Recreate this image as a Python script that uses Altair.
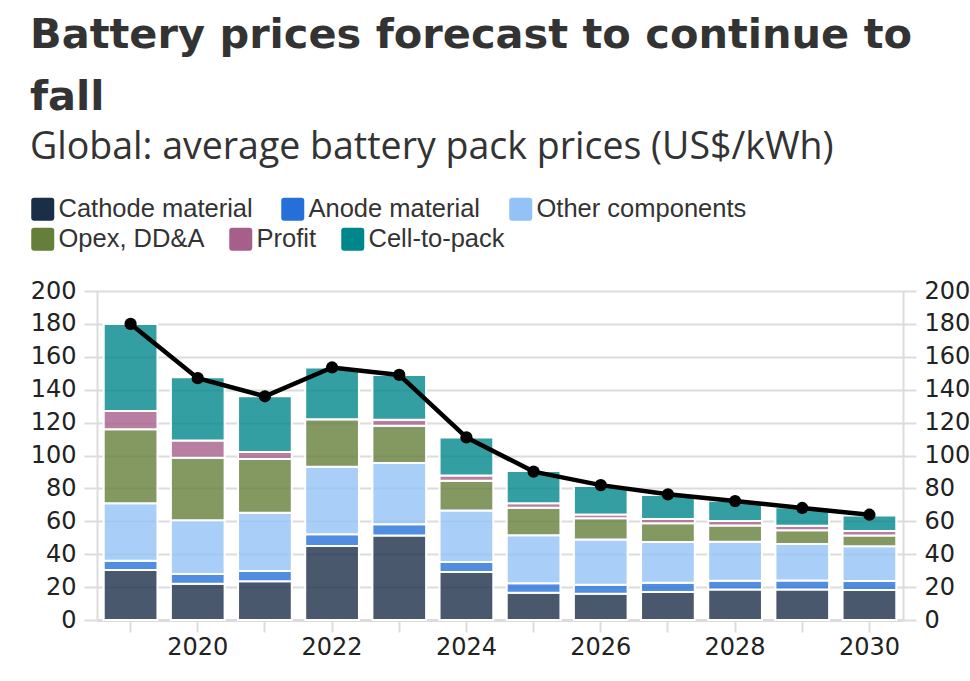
import altair as alt
import pandas as pd

years = ["2019", "2020", "2021", "2022", "2023", "2024", "2025", "2026", "2027", "2028", "2029", "2030"]
cathode = [30.4, 22.0, 23.5, 45.0, 51.3, 29.2, 16.6, 16.0, 17.0, 18.6, 18.6, 18.2]
anode = [5.6, 6.0, 6.3, 7.1, 6.9, 6.1, 5.7, 5.5, 5.7, 5.3, 5.4, 5.5]
other = [34.9, 32.6, 35.4, 41.1, 37.2, 31.2, 29.2, 27.5, 24.7, 23.7, 22.2, 21.1]
opex = [45.0, 38.0, 32.7, 28.8, 22.7, 18.2, 16.8, 12.8, 11.4, 9.9, 8.3, 6.5]
profit = [11.1, 10.5, 4.2, 0.0, 3.7, 3.1, 2.6, 2.4, 2.6, 2.7, 2.8, 2.8]
cell_to_pack = [53.0, 38.4, 33.9, 31.5, 27.1, 23.2, 19.7, 17.3, 14.6, 12.3, 11.2, 9.5]
total_price = [180.0, 147.0, 136.0, 153.5, 149.0, 111.0, 90.2, 82.0, 76.4, 72.3, 68.1, 64.0]

categories = ["Cathode material", "Anode material", "Other components",
              "Opex, DD&A", "Profit", "Cell-to-pack"]
colors = ["#1b2e47", "#2570d8", "#93c3f6", "#647f3a", "#a65f8b", "#00878c"]
y_ticks = [0, 20, 40, 60, 80, 100, 120, 140, 160, 180, 200]

series = [cathode, anode, other, opex, profit, cell_to_pack]
rows = []
for yi, yr in enumerate(years):
    base = 0.0
    for ci, cat in enumerate(categories):
        v = series[ci][yi]
        rows.append({"year": yr, "component": cat, "value": v,
                     "start": base, "end": base + v, "idx": ci})
        base += v
bars_df = pd.DataFrame(rows)
line_df = pd.DataFrame({"year": years, "total": total_price})

GRID = "#dcdcdc"
LABEL_FONT = "DejaVu Sans"
LABEL_COLOR = "#222222"
LABEL_SIZE = 24

x_enc = alt.X(
    "year:O",
    scale=alt.Scale(paddingInner=0.2, paddingOuter=0.1),
    axis=alt.Axis(
        title=None, labelAngle=0, labelFont=LABEL_FONT, labelFontSize=LABEL_SIZE,
        labelColor=LABEL_COLOR, labelPadding=3, tickSize=12, tickColor=GRID,
        tickWidth=2, domainColor=GRID, domainWidth=3, grid=False,
        labelExpr="toNumber(datum.value) % 2 == 0 ? datum.label : ''",
    ),
)
y_scale = alt.Scale(domain=[0, 200], nice=False)

left_axis = alt.Axis(
    title=None, orient="left", values=y_ticks, labelFont=LABEL_FONT, labelFontSize=LABEL_SIZE,
    labelColor=LABEL_COLOR, labelPadding=8, tickSize=13, tickColor=GRID, tickWidth=2,
    domainColor=GRID, domainWidth=2, grid=True, gridColor=GRID, gridWidth=2,
)
right_axis = alt.Axis(
    title=None, orient="right", values=y_ticks, labelFont=LABEL_FONT, labelFontSize=LABEL_SIZE,
    labelColor=LABEL_COLOR, labelPadding=8, tickSize=13, tickColor=GRID, tickWidth=2,
    domainColor=GRID, domainWidth=2, grid=False,
)

rounded = ("M -0.75 -1 L 0.75 -1 Q 1 -1 1 -0.75 L 1 0.75 Q 1 1 0.75 1 "
           "L -0.75 1 Q -1 1 -1 0.75 L -1 -0.75 Q -1 -1 -0.75 -1 Z")


def legend(y, col_pad):
    return alt.Legend(
        title=None, orient="none", legendX=-67, legendY=y, columns=3,
        direction="horizontal", symbolType=rounded,
        symbolSize=529, symbolStrokeWidth=0, symbolOpacity=1,
        labelFont="Liberation Sans", labelFontSize=25.5, labelColor="#333333",
        labelOffset=3, columnPadding=col_pad, padding=0, labelLimit=400,
    )


def bar_layer(cats, cols, legend_y, col_pad, axis):
    return alt.Chart(bars_df).transform_filter(
        alt.FieldOneOfPredicate(field="component", oneOf=cats)
    ).mark_bar(fillOpacity=0.8, stroke="white", strokeWidth=2).encode(
        x=x_enc,
        y=alt.Y("start:Q", scale=y_scale, axis=axis),
        y2="end:Q",
        color=alt.Color("component:N", scale=alt.Scale(domain=cats, range=cols),
                        legend=legend(legend_y, col_pad)),
    )


bars_a = bar_layer(categories[:3], colors[:3], -95, 27, left_axis)
bars_b = bar_layer(categories[3:], colors[3:], -65, 23, None)

line = alt.Chart(line_df).mark_line(color="black", strokeWidth=4.5).encode(
    x=x_enc,
    y=alt.Y("total:Q", scale=y_scale, axis=right_axis),
)
points = alt.Chart(line_df).mark_point(filled=True, color="black", size=150, opacity=1).encode(
    x=x_enc,
    y=alt.Y("total:Q", scale=y_scale, axis=None),
)

chart = alt.layer(bars_a, bars_b, line, points).resolve_axis(y="independent").resolve_scale(
    color="independent"
).properties(
    width=806,
    height=329,
    autosize=alt.AutoSizeParams(type="none"),
    padding={"left": 97, "top": 291, "right": 67, "bottom": 61},
    title=alt.TitleParams(
        text=["Battery prices forecast to continue to", "fall"],
        subtitle="Global: average battery pack prices (US$/kWh)",
        anchor="start", frame="group", dx=-67,
        font="DejaVu Sans", fontWeight="bold", fontSize=41.5, lineHeight=62, color="#333333",
        subtitleFont="Open Sans", subtitleFontSize=37.5, subtitleColor="#333333",
        subtitlePadding=10, offset=30,
    ),
).configure_view(strokeWidth=0).configure(background="white")

chart.save("out.html", embed_options={"renderer": "svg", "actions": False})
